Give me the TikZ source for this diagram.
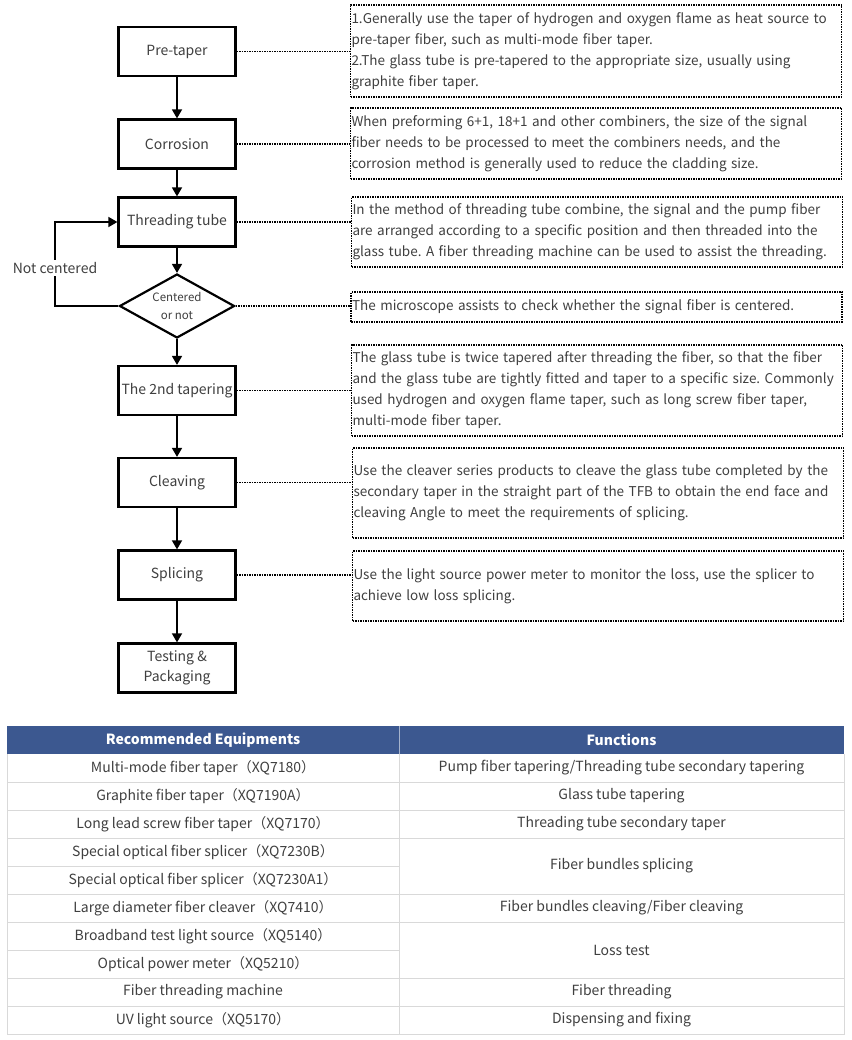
\documentclass[tikz,border=0pt]{standalone}
\usepackage{fontspec}
\setmainfont{Noto Sans CJK SC}
\definecolor{ink}{HTML}{3F3F3F}
\definecolor{navy}{HTML}{3C5890}
\definecolor{grid}{HTML}{D9D9D9}
\usetikzlibrary{calc, positioning, shapes.geometric, arrows.meta}
\frenchspacing

\begin{document}
\begin{tikzpicture}[
  x=1pt, y=-1pt,
  proc/.style={draw=black, line width=2.2pt, fill=white, minimum width=117pt,
               minimum height=49pt, inner sep=1pt, align=center,
               font=\fontsize{14}{20}\selectfont, text=ink},
  check/.style={proc, shape=diamond, aspect=1.8, minimum width=115pt,
                minimum height=64pt, inner sep=0pt, font=\fontsize{11.5}{18}\selectfont},
  note/.style={draw=black, line width=1.8pt, dash pattern=on 1.5pt off 1pt,
               minimum width=491pt, text width=489pt, inner xsep=1pt, inner ysep=0pt,
               align=left, font=\fontsize{13.5}{21}\selectfont, text=ink},
  flow/.style={-{Triangle[width=10pt,length=9pt]}, line width=1.5pt},
  link/.style={line width=1.8pt, dash pattern=on 1.5pt off 1pt},
  cell/.style={font=\fontsize{14}{16}\selectfont, text=ink, inner sep=0pt},
  head/.style={cell, text=white, font=\fontsize{14}{16}\selectfont\bfseries},
]
\useasboundingbox (0,0) rectangle (851,1040);

% process steps
\node[proc] (pre) at (177,51.5) {Pre-taper};
\node[proc] (cor) at (177,144) {Corrosion};
\node[proc] (thr) at (177,222) {Threading tube};
\node[check] (cen) at (177,306) {Centered\\or not};
\node[proc] (tap) at (177,390.5) {The 2nd tapering};
\node[proc] (clv) at (177,482.5) {Cleaving};
\node[proc] (spl) at (177,575) {Splicing};
\node[proc] (tst) at (177,668) {Testing \&\\Packaging};

\draw[flow] (pre) -- (cor);
\draw[flow] (cor) -- (thr);
\draw[flow] (thr) -- (cen);
\draw[flow] (cen) -- (tap);
\draw[flow] (tap) -- (clv);
\draw[flow] (clv) -- (spl);
\draw[flow] (spl) -- (tst);

% loop back
\coordinate (lp) at (55,268);
\draw[flow] (cen.west) -| (lp) |- (thr.west);
\node[cell, fill=white, inner sep=2pt] (nc) at (lp) {Not centered};

% notes
\node[note, minimum height=92pt] (n1) at (596,51) {1.Generally use the taper of hydrogen and oxygen flame as heat source to\\pre-taper fiber, such as multi-mode fiber taper.\\2.The glass tube is pre-tapered to the appropriate size, usually using\\graphite fiber taper.};
\node[note, minimum height=71pt] (n2) at (596,143.5) {When preforming 6+1, 18+1 and other combiners, the size of the signal\\fiber needs to be processed to meet the combiners needs, and the\\corrosion method is generally used to reduce the cladding size.};
\node[note, minimum height=70pt] (n3) at (597,232) {In the method of threading tube combine, the signal and the pump fiber\\are arranged according to a specific position and then threaded into the\\glass tube. A fiber threading machine can be used to assist the threading.};
\node[note, minimum height=30pt] (n4) at (596.5,307) {The microscope assists to check whether the signal fiber is centered.};
\node[note, minimum height=91pt] (n5) at (597,390.5) {The glass tube is twice tapered after threading the fiber, so that the fiber\\and the glass tube are tightly fitted and taper to a specific size. Commonly\\used hydrogen and oxygen flame taper, such as long screw fiber taper,\\multi-mode fiber taper.};
\node[note, minimum height=90pt] (n6) at (598,493) {Use the cleaver series products to cleave the glass tube completed by the\\secondary taper in the straight part of the TFB to obtain the end face and\\cleaving Angle to meet the requirements of splicing.};
\node[note, minimum height=70pt] (n7) at (598,586) {Use the light source power meter to monitor the loss, use the splicer to\\achieve low loss splicing.};

\draw[link] (pre.east) -- (pre.east -| n1.west);
\draw[link] (cor.east) -- (cor.east -| n2.west);
\draw[link] (thr.east) -- (thr.east -| n3.west);
\draw[link] (cen.east) -- (cen.east -| n4.west);
\draw[link] (tap.east) -- (tap.east -| n5.west);
\draw[link] (clv.east) -- (clv.east -| n6.west);
\draw[link] (spl.east) -- (spl.east -| n7.west);

% equipment table
\fill[navy] (7,726) rectangle (844,754);
\draw[navy!45!white, line width=1pt] (399,726) -- (399,754);
\node[head] (h1) at (203,740) {Recommended Equipments};
\node[head] (h2) at (621.5,740) {Functions};
\draw[grid, line width=1pt] (7,754) -- (7,1034) -- (844,1034) -- (844,754);
\draw[grid, line width=1pt] (399,754) -- (399,1034);
\foreach \k in {1,...,9} {
  \draw[grid, line width=1pt] (7,754+28*\k) -- (399,754+28*\k);
}
\foreach \k in {1,2,3,5,6,8,9} {
  \draw[grid, line width=1pt] (399,754+28*\k) -- (844,754+28*\k);
}
\foreach \name [count=\i] in {Multi-mode fiber taper（XQ7180）,
    Graphite fiber taper（XQ7190A）,
    Long lead screw fiber taper（XQ7170）,
    Special optical fiber splicer（XQ7230B）,
    Special optical fiber splicer（XQ7230A1）,
    Large diameter fiber cleaver（XQ7410）,
    Broadband test light source（XQ5140）,
    Optical power meter（XQ5210）,
    Fiber threading machine,
    UV light source（XQ5170）} {
  \node[cell] (eq\i) at (203,740+28*\i) {\name};
}
\node[cell] (f1) at (621.5,768) {Pump fiber tapering/Threading tube secondary tapering};
\node[cell] (f2) at (621.5,796) {Glass tube tapering};
\node[cell] (f3) at (621.5,824) {Threading tube secondary taper};
\node[cell] (f4) at (621.5,866) {Fiber bundles splicing};
\node[cell] (f5) at (621.5,908) {Fiber bundles cleaving/Fiber cleaving};
\node[cell] (f6) at (621.5,950) {Loss test};
\node[cell] (f7) at (621.5,992) {Fiber threading};
\node[cell] (f8) at (621.5,1020) {Dispensing and fixing};
\end{tikzpicture}
\end{document}
